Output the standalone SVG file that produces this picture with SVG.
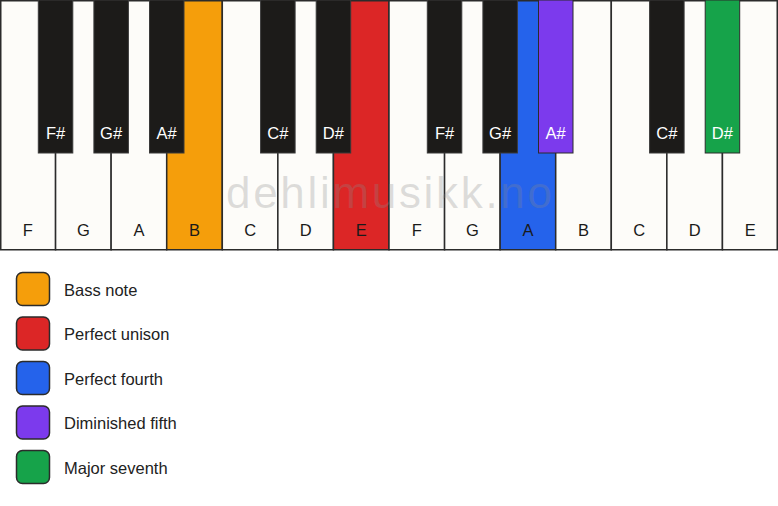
<svg xmlns="http://www.w3.org/2000/svg" width="778" height="506" viewBox="0 0 778 506">
<style>
.w{fill:#fdfcf9;stroke:#2b2b2b;stroke-width:1.5}
.b{fill:#1c1b19;stroke:#3a3a3a;stroke-width:1}
.wl{font-family:"Liberation Sans",Arial,sans-serif;font-size:16.5px;fill:#1a1a1a;text-anchor:middle}
.bl{font-family:"Liberation Sans",Arial,sans-serif;font-size:16.5px;fill:#ffffff;text-anchor:middle}
.lg{stroke:#2b2b2b;stroke-width:1.5}
.lt{font-family:"Liberation Sans",Arial,sans-serif;font-size:16.5px;fill:#222}
.wm{font-family:"Liberation Sans",Arial,sans-serif;font-size:44px;fill:#8a8a8a;fill-opacity:0.28;text-anchor:middle}
</style>
<rect width="778" height="506" fill="#ffffff"/>
<g id="white-keys">
<g id="key-F1"><rect class="w" x="0.75" y="0.75" width="54.82" height="249"/><text class="wl" x="27.8" y="236">F</text></g>
<g id="key-G1"><rect class="w" x="55.57" y="0.75" width="55.57" height="249"/><text class="wl" x="83.4" y="236">G</text></g>
<g id="key-A1"><rect class="w" x="111.14" y="0.75" width="55.57" height="249"/><text class="wl" x="138.9" y="236">A</text></g>
<g id="key-B1"><rect class="w" x="166.71" y="0.75" width="55.57" height="249" style="fill:#f59e0b"/><text class="wl" x="194.5" y="236">B</text></g>
<g id="key-C1"><rect class="w" x="222.29" y="0.75" width="55.57" height="249"/><text class="wl" x="250.1" y="236">C</text></g>
<g id="key-D1"><rect class="w" x="277.86" y="0.75" width="55.57" height="249"/><text class="wl" x="305.6" y="236">D</text></g>
<g id="key-E1"><rect class="w" x="333.43" y="0.75" width="55.57" height="249" style="fill:#dc2626"/><text class="wl" x="361.2" y="236">E</text></g>
<g id="key-F2"><rect class="w" x="389" y="0.75" width="55.57" height="249"/><text class="wl" x="416.8" y="236">F</text></g>
<g id="key-G2"><rect class="w" x="444.57" y="0.75" width="55.57" height="249"/><text class="wl" x="472.4" y="236">G</text></g>
<g id="key-A2"><rect class="w" x="500.14" y="0.75" width="55.57" height="249" style="fill:#2563eb"/><text class="wl" x="527.9" y="236">A</text></g>
<g id="key-B2"><rect class="w" x="555.71" y="0.75" width="55.57" height="249"/><text class="wl" x="583.5" y="236">B</text></g>
<g id="key-C2"><rect class="w" x="611.29" y="0.75" width="55.57" height="249"/><text class="wl" x="639.1" y="236">C</text></g>
<g id="key-D2"><rect class="w" x="666.86" y="0.75" width="55.57" height="249"/><text class="wl" x="694.6" y="236">D</text></g>
<g id="key-E2"><rect class="w" x="722.43" y="0.75" width="54.82" height="249"/><text class="wl" x="750.2" y="236">E</text></g>
</g>
<g id="black-keys">
<g id="key-Fs1"><rect class="b" x="38.3" y="0" width="34.5" height="153"/><text class="bl" x="55.6" y="139">F#</text></g>
<g id="key-Gs1"><rect class="b" x="93.9" y="0" width="34.5" height="153"/><text class="bl" x="111.1" y="139">G#</text></g>
<g id="key-As1"><rect class="b" x="149.5" y="0" width="34.5" height="153"/><text class="bl" x="166.7" y="139">A#</text></g>
<g id="key-Cs1"><rect class="b" x="260.6" y="0" width="34.5" height="153"/><text class="bl" x="277.9" y="139">C#</text></g>
<g id="key-Ds1"><rect class="b" x="316.2" y="0" width="34.5" height="153"/><text class="bl" x="333.4" y="139">D#</text></g>
<g id="key-Fs2"><rect class="b" x="427.3" y="0" width="34.5" height="153"/><text class="bl" x="444.6" y="139">F#</text></g>
<g id="key-Gs2"><rect class="b" x="482.9" y="0" width="34.5" height="153"/><text class="bl" x="500.1" y="139">G#</text></g>
<g id="key-As2"><rect class="b" x="538.5" y="0" width="34.5" height="153" style="fill:#7c3aed;stroke:#2b2b2b"/><text class="bl" x="555.7" y="139">A#</text></g>
<g id="key-Cs2"><rect class="b" x="649.6" y="0" width="34.5" height="153"/><text class="bl" x="666.9" y="139">C#</text></g>
<g id="key-Ds2"><rect class="b" x="705.2" y="0" width="34.5" height="153" style="fill:#16a34a;stroke:#2b2b2b"/><text class="bl" x="722.4" y="139">D#</text></g>
</g>
<text class="wm" x="389" y="208" textLength="326" lengthAdjust="spacing">dehlimusikk.no</text>
<g id="legend">
<g id="legend-bass"><rect class="lg" x="16.5" y="272.5" width="33" height="33" rx="6" fill="#f59e0b"/><text class="lt" x="64" y="295.5">Bass note</text></g>
<g id="legend-unison"><rect class="lg" x="16.5" y="317" width="33" height="33" rx="6" fill="#dc2626"/><text class="lt" x="64" y="340">Perfect unison</text></g>
<g id="legend-fourth"><rect class="lg" x="16.5" y="361.5" width="33" height="33" rx="6" fill="#2563eb"/><text class="lt" x="64" y="384.5">Perfect fourth</text></g>
<g id="legend-dimfifth"><rect class="lg" x="16.5" y="406" width="33" height="33" rx="6" fill="#7c3aed"/><text class="lt" x="64" y="429">Diminished fifth</text></g>
<g id="legend-maj7"><rect class="lg" x="16.5" y="450.5" width="33" height="33" rx="6" fill="#16a34a"/><text class="lt" x="64" y="473.5">Major seventh</text></g>
</g>
<g id="connectors"/>
</svg>
